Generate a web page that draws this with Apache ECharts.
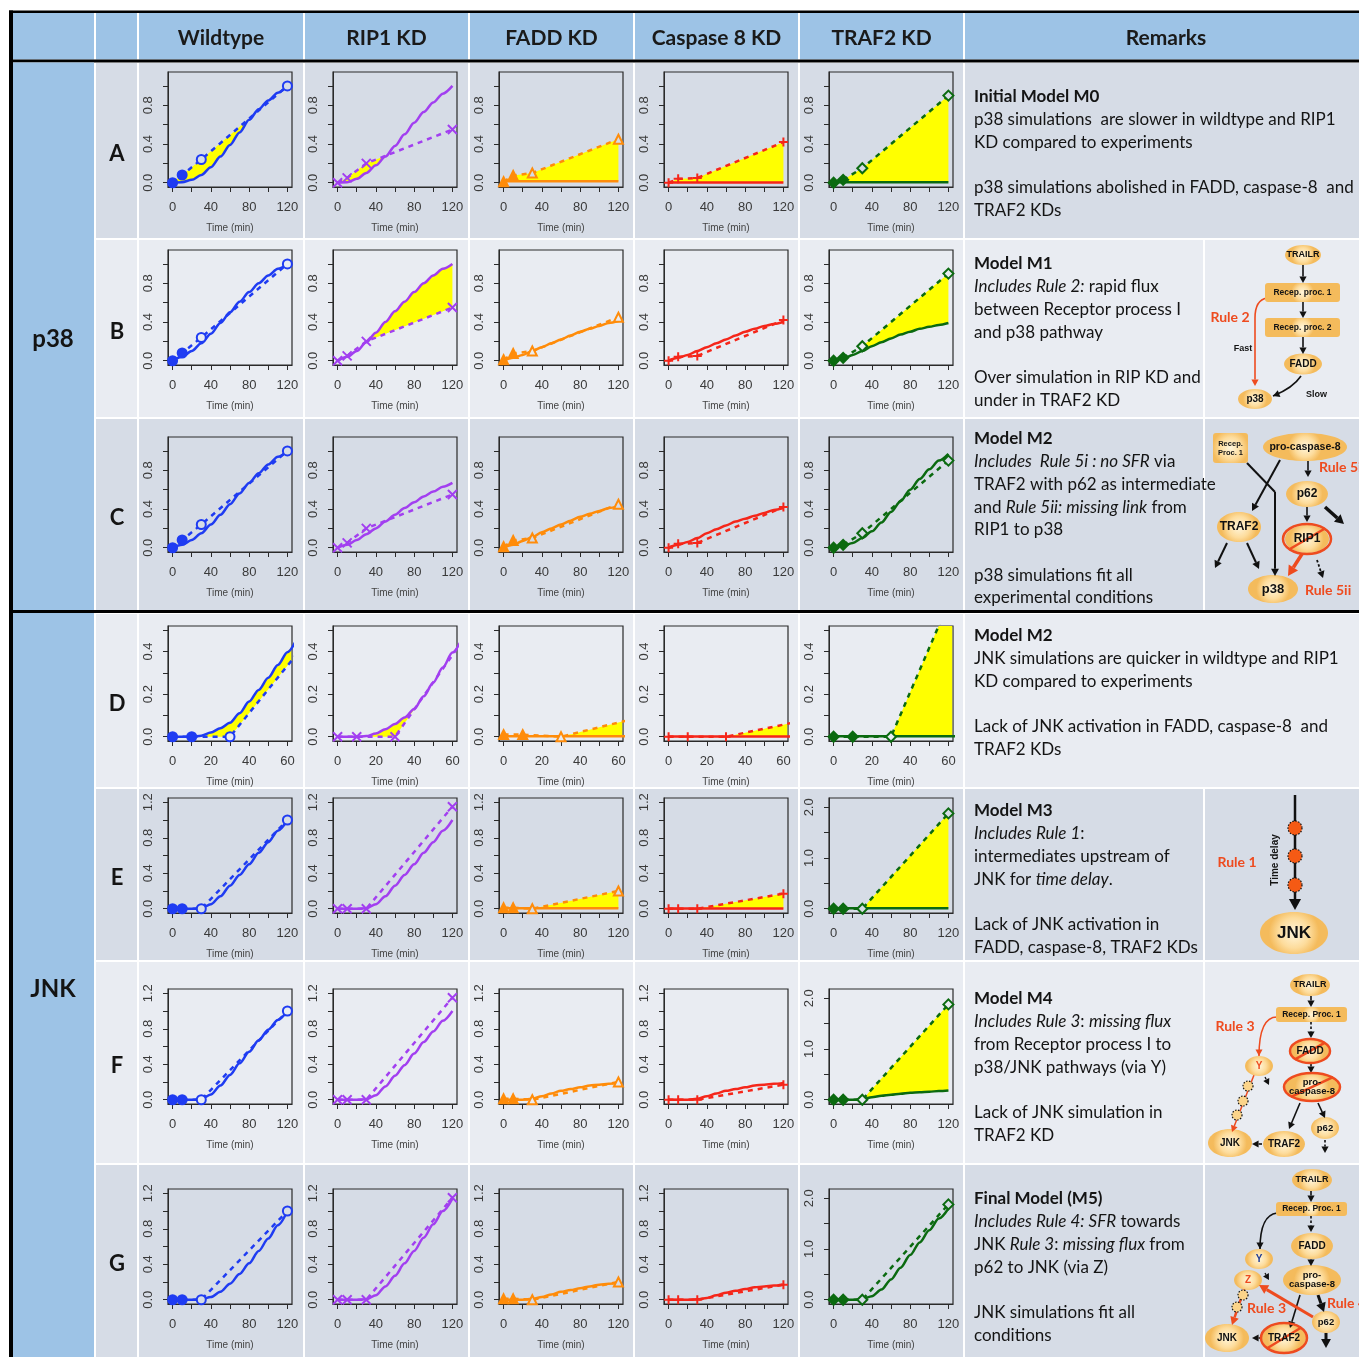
<!DOCTYPE html>
<html>
<head>
<meta charset="utf-8">
<script src="https://cdn.jsdelivr.net/npm/echarts@6/dist/echarts.min.js"></script>
<style>
  html, body { margin: 0; padding: 0; background: #fff; }
  #chart { width: 1359px; height: 1357px; }
</style>
</head>
<body>
<div id="chart"></div>
<script>
// ---- data ----
const conditions = ['Wildtype', 'RIP1 KD', 'FADD KD', 'Caspase 8 KD', 'TRAF2 KD'];
const rowLetters = ['A', 'B', 'C', 'D', 'E', 'F', 'G'];
const expTimes = [0, 10, 30, 120];
const simTimes = [0, 10, 20, 30, 40, 50, 60, 70, 80, 90, 100, 110, 120];
const simTimesD = [0, 5, 10, 15, 20, 25, 30, 35, 40, 45, 50, 55, 60, 65];

// experiments (dashed + markers), one list per condition
const p38Exp = [
  [0, 0.08, 0.24, 1.0],
  [0, 0.05, 0.2, 0.55],
  [0.01, 0.075, 0.1, 0.45],
  [0, 0.04, 0.05, 0.42],
  [0, 0.03, 0.15, 0.9]
];
const jnkExp = [
  [0, 0, 0, 1.0],
  [0, 0, 0, 1.15],
  [0.01, 0.01, 0, 0.2],
  [0, 0, 0, 0.17],
  [0, 0, 0, 1.88]
];

// simulations (solid), one list per condition
const simA = [
  [0, 0.005, 0.03, 0.08, 0.16, 0.27, 0.39, 0.52, 0.65, 0.76, 0.85, 0.93, 1.0],
  [0, 0.005, 0.04, 0.1, 0.18, 0.27, 0.38, 0.5, 0.62, 0.73, 0.83, 0.92, 1.0],
  [0.015, 0.015, 0.015, 0.015, 0.015, 0.015, 0.015, 0.015, 0.015, 0.015, 0.015, 0.015, 0.015],
  [0.003, 0.003, 0.003, 0.003, 0.003, 0.003, 0.003, 0.003, 0.003, 0.003, 0.003, 0.003, 0.003],
  [0.005, 0.005, 0.005, 0.005, 0.005, 0.005, 0.005, 0.005, 0.005, 0.005, 0.005, 0.005, 0.005]
];
const simB = [
  [0, 0.04, 0.1, 0.18, 0.28, 0.39, 0.5, 0.61, 0.71, 0.8, 0.88, 0.95, 1.0],
  [0, 0.04, 0.1, 0.19, 0.29, 0.4, 0.51, 0.61, 0.71, 0.8, 0.88, 0.95, 1.0],
  [0, 0.03, 0.06, 0.1, 0.14, 0.18, 0.22, 0.26, 0.3, 0.33, 0.36, 0.39, 0.41],
  [0, 0.03, 0.06, 0.1, 0.14, 0.18, 0.22, 0.26, 0.3, 0.33, 0.36, 0.38, 0.4],
  [0, 0.02, 0.06, 0.1, 0.15, 0.19, 0.23, 0.27, 0.3, 0.33, 0.35, 0.37, 0.39]
];
const simC = [
  [0, 0.03, 0.08, 0.15, 0.24, 0.34, 0.45, 0.56, 0.67, 0.77, 0.86, 0.94, 1.0],
  [0, 0.03, 0.08, 0.14, 0.2, 0.27, 0.34, 0.41, 0.47, 0.53, 0.58, 0.63, 0.67],
  [0, 0.03, 0.07, 0.11, 0.16, 0.2, 0.24, 0.28, 0.32, 0.35, 0.38, 0.41, 0.43],
  [0, 0.03, 0.06, 0.1, 0.15, 0.19, 0.23, 0.27, 0.3, 0.33, 0.36, 0.39, 0.41],
  [0, 0.02, 0.05, 0.1, 0.17, 0.26, 0.37, 0.48, 0.6, 0.71, 0.81, 0.9, 0.97]
];
const simD = [
  [0, 0, 0, 0.005, 0.02, 0.04, 0.066, 0.11, 0.165, 0.22, 0.277, 0.337, 0.397, 0.46],
  [0, 0, 0, 0.003, 0.015, 0.035, 0.06, 0.09, 0.13, 0.19, 0.255, 0.325, 0.395, 0.46],
  [0.002, 0.002, 0.002, 0.002, 0.002, 0.002, 0.002, 0.002, 0.002, 0.002, 0.002, 0.002, 0.002, 0.002],
  [0.001, 0.001, 0.001, 0.001, 0.001, 0.001, 0.001, 0.001, 0.001, 0.001, 0.001, 0.001, 0.001, 0.001],
  [0.002, 0.002, 0.002, 0.002, 0.002, 0.002, 0.002, 0.002, 0.002, 0.002, 0.002, 0.002, 0.002, 0.002]
];
const simE = [
  [0, 0, 0, 0.005, 0.05, 0.14, 0.26, 0.38, 0.5, 0.63, 0.75, 0.88, 1.0],
  [0, 0, 0, 0.005, 0.05, 0.14, 0.26, 0.38, 0.5, 0.63, 0.75, 0.88, 1.0],
  [0.005, 0.005, 0.005, 0.005, 0.005, 0.005, 0.005, 0.005, 0.005, 0.005, 0.005, 0.005, 0.005],
  [0.003, 0.003, 0.003, 0.003, 0.003, 0.003, 0.003, 0.003, 0.003, 0.003, 0.003, 0.003, 0.003],
  [0.01, 0.01, 0.01, 0.01, 0.01, 0.01, 0.01, 0.01, 0.01, 0.01, 0.01, 0.01, 0.01]
];
const simF = [
  [0, 0, 0, 0.005, 0.06, 0.16, 0.28, 0.41, 0.54, 0.67, 0.79, 0.9, 1.0],
  [0, 0, 0, 0.005, 0.05, 0.15, 0.27, 0.39, 0.52, 0.65, 0.77, 0.89, 1.0],
  [0, 0, 0, 0.01, 0.04, 0.07, 0.1, 0.12, 0.14, 0.16, 0.17, 0.18, 0.19],
  [0, 0, 0, 0.01, 0.04, 0.07, 0.1, 0.12, 0.14, 0.16, 0.17, 0.18, 0.19],
  [0, 0, 0, 0.01, 0.05, 0.08, 0.1, 0.12, 0.14, 0.15, 0.16, 0.17, 0.18]
];
const simG = [
  [0, 0, 0, 0.005, 0.03, 0.09, 0.18, 0.29, 0.41, 0.55, 0.69, 0.84, 1.0],
  [0, 0, 0, 0.005, 0.05, 0.15, 0.27, 0.41, 0.55, 0.7, 0.85, 1.0, 1.14],
  [0, 0, 0, 0.01, 0.03, 0.06, 0.09, 0.11, 0.13, 0.15, 0.17, 0.18, 0.19],
  [0, 0, 0, 0.005, 0.02, 0.05, 0.08, 0.1, 0.12, 0.14, 0.15, 0.16, 0.17],
  [0, 0, 0, 0.01, 0.07, 0.2, 0.4, 0.63, 0.88, 1.13, 1.37, 1.6, 1.8]
];

// time spans (min) shaded yellow where simulation and experiment disagree
const fillA = [[2, 80], [5, 51], [0, 120], [0, 120], [0, 120]];
const fillB = [null, [33, 120], null, null, [30, 120]];
const fillC = [null, null, null, null, null];
const fillD = [[15, 65], [15, 46], [30, 65], [30, 65], [30, 65]];
const fillE = [null, null, [30, 120], [30, 120], [30, 120]];
const fillF = [null, null, null, null, [33, 120]];
const fillG = [null, null, null, null, null];

// axis ticks / labels
const xTicks120 = [0, 20, 40, 60, 80, 100, 120];
const xLabels120 = [0, 40, 80, 120];
const xTicks60 = [0, 10, 20, 30, 40, 50, 60];
const xLabels60 = [0, 20, 40, 60];
const yTicks11 = [0, 0.2, 0.4, 0.6, 0.8, 1.0];
const yLabels11 = [0, 0.4, 0.8];
const yTicks05 = [0, 0.1, 0.2, 0.3, 0.4, 0.5];
const yLabels05 = [0, 0.2, 0.4];
const yTicks12 = [0, 0.2, 0.4, 0.6, 0.8, 1.0, 1.2];
const yLabels12 = [0, 0.4, 0.8, 1.2];
const yTicks21 = [0, 0.5, 1.0, 1.5, 2.0];
const yLabels21 = [0, 1, 2];

// remarks text
const remarksA = ['{b|Initial Model M0}', 'p38 simulations  are slower in wildtype and RIP1', 'KD compared to experiments', '', 'p38 simulations abolished in FADD, caspase-8  and', 'TRAF2 KDs'];
const remarksB = ['{b|Model M1}', '{i|Includes Rule 2:} rapid flux', 'between Receptor process I', 'and p38 pathway', '', 'Over simulation in RIP KD and', 'under in TRAF2 KD'];
const remarksC = ['{b|Model M2}', '{i|Includes  Rule 5i : no SFR} via', 'TRAF2 with p62 as intermediate', 'and {i|Rule 5ii: missing link} from', 'RIP1 to p38', '', 'p38 simulations fit all', 'experimental conditions'];
const remarksD = ['{b|Model M2}', 'JNK simulations are quicker in wildtype and RIP1', 'KD compared to experiments', '', 'Lack of JNK activation in FADD, caspase-8  and', 'TRAF2 KDs'];
const remarksE = ['{b|Model M3}', '{i|Includes Rule 1}:', 'intermediates upstream of', 'JNK for {i|time delay}.', '', 'Lack of JNK activation in', 'FADD, caspase-8, TRAF2 KDs'];
const remarksF = ['{b|Model M4}', '{i|Includes Rule 3}: {i|missing flux}', 'from Receptor process I to', 'p38/JNK pathways (via Y)', '', 'Lack of JNK simulation in', 'TRAF2 KD'];
const remarksG = ['{b|Final Model (M5)}', '{i|Includes Rule 4: SFR} towards', 'JNK {i|Rule 3}: {i|missing flux} from', 'p62 to JNK (via Z)', '', 'JNK simulations fit all', 'conditions'];

// ---- layout ----
const colors = ['#1f3cf2', '#a23ff0', '#ff8c0a', '#f5261a', '#0b6a10'];
const symbols = ['circle', 'path://M0,0L10,10M10,0L0,10', 'triangle', 'path://M5,0L5,10M0,5L10,5', 'diamond'];
const cellX = [[139, 303], [305, 468], [470, 633], [635, 798], [800, 963]];
const rowY = [[63, 238], [240, 417], [419, 610], [614, 787], [789, 960], [962, 1163], [1165, 1357]];
const boxLeft = [168, 333, 499, 664, 829];
const boxTop = [72, 250, 437, 626, 798, 989, 1189];
const boxW = 124, boxH = 115;
const dark = '#d6dce6', light = '#e9ecf2', blue = '#9dc3e6';
const RED = '#ee4b1f';
const txtFont = 'Lato';

const rows = [
  { sim: simA, fill: fillA, exp: p38Exp, remarks: remarksA, split: false },
  { sim: simB, fill: fillB, exp: p38Exp, remarks: remarksB, split: true },
  { sim: simC, fill: fillC, exp: p38Exp, remarks: remarksC, split: true },
  { sim: simD, fill: fillD, exp: jnkExp, remarks: remarksD, split: false, short: true },
  { sim: simE, fill: fillE, exp: jnkExp, remarks: remarksE, split: true },
  { sim: simF, fill: fillF, exp: jnkExp, remarks: remarksF, split: true },
  { sim: simG, fill: fillG, exp: jnkExp, remarks: remarksG, split: true }
];

function lin(ts, vs, t) {
  for (let i = 1; i < ts.length; i++) {
    if (t <= ts[i]) {
      const f = (t - ts[i - 1]) / (ts[i] - ts[i - 1]);
      return vs[i - 1] + f * (vs[i] - vs[i - 1]);
    }
  }
  return vs[vs.length - 1];
}

const grids = [], xAxes = [], yAxes = [], series = [];
const axisFont = 'Liberation Sans';

rows.forEach((row, r) => {
  const rowBg = r % 2 === 0 ? dark : light;
  const times = row.short ? simTimesD : simTimes;
  const xLim = row.short ? 60 : 120;
  for (let c = 0; c < 5; c++) {
    const gi = grids.length;
    let yLim, yT, yL;
    if (r < 3) { yLim = 1.1; yT = yTicks11; yL = yLabels11; }
    else if (row.short) { yLim = 0.5; yT = yTicks05; yL = yLabels05; }
    else if (c === 4) { yLim = 2.1; yT = yTicks21; yL = yLabels21; }
    else { yLim = 1.2; yT = yTicks12; yL = yLabels12; }

    grids.push({ left: boxLeft[c], top: boxTop[r], width: boxW, height: boxH, show: true,
      borderColor: '#2a2a2a', borderWidth: 1.2, backgroundColor: 'transparent', containLabel: false });
    xAxes.push({ type: 'value', gridIndex: gi, min: -0.04 * xLim, max: 1.04 * xLim,
      axisLine: { show: true, onZero: false, lineStyle: { color: '#2a2a2a', width: 1 } },
      axisTick: { show: true, customValues: row.short ? xTicks60 : xTicks120, length: 5, lineStyle: { color: '#2a2a2a' } },
      axisLabel: { show: true, customValues: row.short ? xLabels60 : xLabels120, fontSize: 13, color: '#3a3a3a', margin: 14, fontFamily: axisFont },
      splitLine: { show: false },
      name: 'Time (min)', nameLocation: 'middle', nameGap: 36,
      nameTextStyle: { fontSize: 10, color: '#444', fontFamily: axisFont } });
    yAxes.push({ type: 'value', gridIndex: gi, min: -0.04 * yLim, max: 1.04 * yLim,
      axisLine: { show: true, onZero: false, lineStyle: { color: '#2a2a2a', width: 1 } },
      axisTick: { show: true, customValues: yT, length: 5, lineStyle: { color: '#2a2a2a' } },
      axisLabel: { show: true, customValues: yL, rotate: 90, margin: 13, fontSize: 13, color: '#3a3a3a', fontFamily: axisFont,
        formatter: v => Number(v).toFixed(1) },
      splitLine: { show: false } });

    const sim = row.sim[c], exp = row.exp[c], col = colors[c], rng = row.fill[c];
    if (rng) {
      const yMax = 1.04 * yLim, xMax = 1.04 * xLim;
      series.push({ type: 'custom', xAxisIndex: gi, yAxisIndex: gi, silent: true, clip: true, z: 1,
        data: [[rng[0], 0]],
        renderItem: (params, api) => {
          const top = [], bot = [];
          const t1 = Math.min(rng[1], xMax);
          for (let t = rng[0]; t <= t1 + 1e-9; t += 0.5) {
            const a = lin(times, sim, t), b = lin(expTimes, exp, t);
            top.push(api.coord([t, Math.min(Math.max(a, b), yMax)]));
            bot.push(api.coord([t, Math.min(Math.min(a, b), yMax)]));
          }
          return { type: 'polygon', shape: { points: top.concat(bot.reverse()) }, style: { fill: '#ffff00' } };
        } });
    }
    series.push({ type: 'line', xAxisIndex: gi, yAxisIndex: gi, silent: true, clip: true, z: 3,
      data: times.map((t, i) => [t, sim[i]]), smooth: 0.3, smoothMonotone: 'x', showSymbol: false,
      lineStyle: { color: col, width: 2.5 } });
    series.push({ type: 'line', xAxisIndex: gi, yAxisIndex: gi, silent: true, clip: true, z: 4,
      data: expTimes.map((t, i) => ({ value: [t, exp[i]],
        itemStyle: { color: (i < 2 && (c === 0 || c === 2 || c === 4)) ? col : rowBg, borderColor: col, borderWidth: 2 } })),
      symbol: symbols[c], symbolSize: c === 4 ? 10 : 9, showSymbol: true, symbolKeepAspect: true,
      lineStyle: { color: col, width: 2.5, type: [5, 5] } });
  }
});

// ---- table, text and diagrams ----
const G = [];
function rect(x1, y1, x2, y2, fill, z) {
  G.push({ type: 'rect', silent: true, z: z == null ? -10 : z, shape: { x: x1, y: y1, width: x2 - x1, height: y2 - y1 }, style: { fill } });
}
function text(x, y, s, o) {
  G.push({ type: 'text', silent: true, z: 20, x, y, rotation: (o && o.rotation) || 0,
    style: Object.assign({ text: s, fill: '#141414', fontFamily: txtFont, fontSize: 17, align: 'left', verticalAlign: 'middle' }, o && o.style) });
}

// backgrounds
rect(9, 10.5, 1359, 13, '#000');
rect(9, 10.5, 13, 1357, '#000');
rect(13, 13, 94, 59.5, blue);
rect(96, 13, 137, 59.5, blue);
cellX.forEach(([a, b]) => rect(a, 13, b, 59.5, blue));
rect(965, 13, 1359, 59.5, blue);
rect(13, 59.5, 1359, 62.5, '#000');
rect(13, 610, 1359, 613, '#000');
rect(13, 62.5, 94, 610, blue);
rect(13, 613, 94, 1357, blue);
rows.forEach((row, r) => {
  const bg = r % 2 === 0 ? dark : light;
  const [y1, y2] = rowY[r];
  rect(96, y1, 137, y2, bg);
  cellX.forEach(([a, b]) => rect(a, y1, b, y2, bg));
  if (row.split) { rect(965, y1, 1203, y2, bg); rect(1205, y1, 1359, y2, bg); }
  else rect(965, y1, 1359, y2, bg);
});

// header
const headBold = { fontWeight: 'bold', fontSize: 21, align: 'center', fill: '#1a1a1a' };
conditions.forEach((s, c) => text((cellX[c][0] + cellX[c][1]) / 2, 38, s, { style: headBold }));
text(1166, 38, 'Remarks', { style: headBold });
text(53, 339, 'p38', { style: { fontWeight: 'bold', fontSize: 24, align: 'center' } });
text(53, 989, 'JNK', { style: { fontWeight: 'bold', fontSize: 24, align: 'center' } });
rowLetters.forEach((s, r) => text(117, (rowY[r][0] + rowY[r][1]) / 2 + 3, s, { style: { fontWeight: 'bold', fontSize: 22, align: 'center' } }));

// remarks
const rich = {
  b: { fontWeight: 'bold', fontSize: 17, fontFamily: txtFont, fill: '#141414' },
  i: { fontStyle: 'italic', fontSize: 17, fontFamily: txtFont, fill: '#141414' }
};
const remarkTop = [97, 264, 439, 636, 811, 999, 1199];
rows.forEach((row, r) => {
  row.remarks.forEach((s, k) => { if (s) text(974, remarkTop[r] + k * 22.7, s, { style: { rich } }); });
});

// diagram helpers
const nodeFill = { type: 'radial', x: 0.5, y: 0.5, r: 0.6,
  colorStops: [{ offset: 0, color: '#fff6dc' }, { offset: 0.6, color: '#fddc9c' }, { offset: 1, color: '#f4bb5c' }] };
function node(cx, cy, rx, ry, label, fs, col) {
  G.push({ type: 'ellipse', silent: true, z: 7, shape: { cx, cy, rx, ry }, style: { fill: nodeFill } });
  text(cx, cy, label, { style: { fontFamily: 'Liberation Sans', fontWeight: 'bold', fontSize: fs || 10, align: 'center', fill: col || '#111', lineHeight: (fs || 10) * 0.95 } });
}
function box(x, y, w, h, label, fs) {
  G.push({ type: 'rect', silent: true, z: 7, shape: { x, y, width: w, height: h, r: 3 }, style: { fill: nodeFill } });
  text(x + w / 2, y + h / 2, label, { style: { fontFamily: 'Liberation Sans', fontWeight: 'bold', fontSize: fs || 8.5, align: 'center', lineHeight: 9 } });
}
function head(x1, y1, x2, y2, color, size) {
  const a = Math.atan2(y2 - y1, x2 - x1), s = size || 6, w = s * 0.55;
  const bx = x2 - s * Math.cos(a), by = y2 - s * Math.sin(a);
  G.push({ type: 'polygon', silent: true, z: 8, shape: { points: [[x2, y2], [bx + w * Math.sin(a), by - w * Math.cos(a)], [bx - w * Math.sin(a), by + w * Math.cos(a)]] }, style: { fill: color } });
  return [bx, by];
}
function arrow(x1, y1, x2, y2, o) {
  o = o || {};
  const color = o.color || '#111', w = o.width || 1.6, size = o.size || (4 + w * 1.6);
  const [bx, by] = head(x1, y1, x2, y2, color, size);
  G.push({ type: 'line', silent: true, z: 6, shape: { x1, y1, x2: bx, y2: by }, style: { stroke: color, lineWidth: w, lineDash: o.dash ? [2.5, 2] : null } });
}
function seg(x1, y1, x2, y2, color, w) {
  G.push({ type: 'line', silent: true, z: 6, shape: { x1, y1, x2, y2 }, style: { stroke: color || '#111', lineWidth: w || 1.8 } });
}
function curveArrow(x1, y1, cx, cy, x2, y2, color, w) {
  G.push({ type: 'bezierCurve', silent: true, z: 6, shape: { x1, y1, x2, y2, cpx1: cx, cpy1: cy }, style: { stroke: color, lineWidth: w, fill: null } });
  head(cx, cy, x2, y2, color, 4 + w * 1.6);
}
function cross(cx, cy, rx, ry) {
  G.push({ type: 'ellipse', silent: true, z: 9, shape: { cx, cy, rx, ry }, style: { fill: null, stroke: RED, lineWidth: 2.5 } });
  seg(cx - rx * 0.75, cy + ry * 0.7, cx + rx * 0.75, cy - ry * 0.7, RED, 2.5);
  G[G.length - 1].z = 9;
}
function dot(cx, cy, r, fill) {
  G.push({ type: 'circle', silent: true, z: 9, shape: { cx, cy, r }, style: { fill, stroke: '#111', lineWidth: 1.2, lineDash: [1.5, 1.5] } });
}
const rule = { fill: RED, fontWeight: 'bold', fontSize: 14, fontFamily: txtFont };

// row B diagram
node(1303, 255, 18, 10, 'TRAILR', 9);
arrow(1303, 265, 1303, 283);
box(1265, 283, 75, 19, 'Recep. proc. 1');
arrow(1303, 302, 1303, 318);
box(1265, 318, 75, 19, 'Recep. proc. 2');
arrow(1303, 337, 1303, 354);
node(1303, 364, 19, 10.5, 'FADD', 10);
curveArrow(1301, 376, 1293, 388, 1273, 396, '#111', 1.6);
node(1255, 399, 17, 10, 'p38', 10);
text(1306, 395, 'Slow', { style: { fontFamily: 'Liberation Sans', fontWeight: 'bold', fontSize: 9 } });
G.push({ type: 'bezierCurve', silent: true, z: 6, shape: { x1: 1267, y1: 298, x2: 1255, y2: 318, cpx1: 1255, cpy1: 300 }, style: { stroke: RED, lineWidth: 1.6, fill: null } });
arrow(1255, 318, 1255, 386, { color: RED, width: 1.6 });
text(1230, 317, 'Rule 2', { style: Object.assign({ align: 'center' }, rule) });
text(1243, 349, 'Fast', { style: { fontFamily: 'Liberation Sans', fontWeight: 'bold', fontSize: 9, align: 'center' } });

// row C diagram
box(1213, 433, 35, 30, 'Recep.\nProc. 1', 7.5);
node(1305, 447, 42, 14, 'pro-caspase-8', 10.5);
arrow(1308, 461, 1308, 477);
text(1319, 467, 'Rule 5i', { style: rule });
node(1307, 494, 21, 13, 'p62', 12);
arrow(1307, 507, 1307, 522);
arrow(1325, 507, 1344, 524, { width: 3.5, size: 9 });
node(1239, 527, 22, 15, 'TRAF2', 12);
seg(1247, 463, 1275, 492, '#111', 2);
arrow(1275, 492, 1275, 576, { width: 2 });
arrow(1280, 460, 1252, 511, { width: 2 });
arrow(1227, 543, 1215, 568, { width: 2 });
arrow(1247, 543, 1259, 569, { width: 2 });
node(1307, 539, 22, 14, 'RIP1', 12);
cross(1307, 539, 24, 15);
node(1273, 589, 25, 14, 'p38', 13);
arrow(1302, 554, 1288, 576, { color: RED, width: 3.5, size: 10 });
arrow(1317, 560, 1323, 578, { dash: true, width: 1.8 });
text(1305, 590, 'Rule 5ii', { style: rule });

// row E diagram
arrow(1295, 795, 1295, 910, { width: 2.5, size: 11 });
dot(1295, 828, 7, '#f55a14');
dot(1295, 856, 7, '#f55a14');
dot(1295, 885, 7, '#f55a14');
text(1275, 860, 'Time delay', { rotation: Math.PI / 2, style: { fontFamily: 'Liberation Sans', fontWeight: 'bold', fontSize: 10, align: 'center' } });
text(1237, 862, 'Rule 1', { style: Object.assign({ align: 'center' }, rule) });
node(1294, 933, 34, 21, 'JNK', 17);

// row F diagram
node(1310, 985, 20, 11, 'TRAILR', 9);
arrow(1311, 996, 1311, 1007);
box(1276, 1007, 71, 15, 'Recep. Proc. 1');
arrow(1311, 1022, 1311, 1038, { dash: true });
node(1310, 1051, 19, 12, 'FADD', 10);
cross(1310, 1051, 20, 12);
arrow(1311, 1063, 1311, 1073);
node(1312, 1087, 27, 14, 'pro-\ncaspase-8', 9.5);
cross(1312, 1087, 28, 14);
arrow(1300, 1103, 1289, 1129);
arrow(1318, 1103, 1325, 1118);
node(1325, 1128, 14, 11, 'p62', 9.5);
arrow(1325, 1140, 1325, 1153, { dash: true });
node(1284, 1144, 21, 13, 'TRAF2', 10);
arrow(1262, 1144, 1252, 1144);
node(1230, 1143, 22, 14, 'JNK', 10);
curveArrow(1277, 1017, 1259, 1017, 1259, 1056, RED, 1.5);
text(1235, 1026, 'Rule 3', { style: Object.assign({ align: 'center' }, rule) });
node(1259, 1066, 14, 10, 'Y', 10, RED);
arrow(1265, 1077, 1269, 1085, { dash: true, width: 1.3 });
arrow(1254, 1075, 1232, 1132, { color: RED, width: 1.5 });
dot(1248, 1086, 5, '#fbd48a');
dot(1243, 1101, 5, '#fbd48a');
dot(1237, 1115, 5, '#fbd48a');

// row G diagram
node(1312, 1180, 20, 11, 'TRAILR', 9);
arrow(1311, 1191, 1311, 1202);
box(1276, 1202, 71, 14, 'Recep. Proc. 1');
arrow(1311, 1216, 1311, 1232, { dash: true });
node(1312, 1246, 21, 13, 'FADD', 10);
arrow(1311, 1259, 1311, 1266);
node(1312, 1280, 29, 15, 'pro-\ncaspase-8', 9.5);
curveArrow(1277, 1213, 1260, 1215, 1260, 1249, '#111', 1.6);
node(1259, 1259, 14, 10, 'Y', 10, '#1f3a93');
node(1248, 1280, 14, 10, 'Z', 10, RED);
arrow(1265, 1273, 1269, 1280, { dash: true, width: 1.3 });
dot(1243, 1295, 5, '#fbd48a');
dot(1237, 1307, 5, '#fbd48a');
arrow(1245, 1287, 1232, 1325, { color: RED, width: 2.5 });
node(1227, 1338, 22, 14, 'JNK', 10);
node(1284, 1338, 22, 14, 'TRAF2', 10);
cross(1284, 1338, 23, 15);
arrow(1262, 1338, 1252, 1338);
arrow(1300, 1295, 1290, 1328);
arrow(1318, 1295, 1324, 1312, { width: 3, size: 9 });
text(1327, 1303, 'Rule 4', { style: rule });
node(1326, 1322, 14, 11, 'p62', 9.5);
arrow(1326, 1333, 1326, 1348, { width: 3, size: 9 });
arrow(1313, 1317, 1259, 1285, { color: RED, width: 3, size: 9 });
text(1247, 1308, 'Rule 3', { style: rule });

const chart = echarts.init(document.getElementById('chart'), null, { renderer: 'canvas', width: 1359, height: 1357 });
chart.setOption({
  animation: false,
  backgroundColor: '#ffffff',
  grid: grids,
  xAxis: xAxes,
  yAxis: yAxes,
  series: series,
  graphic: { elements: G }
});
</script>
</body>
</html>
